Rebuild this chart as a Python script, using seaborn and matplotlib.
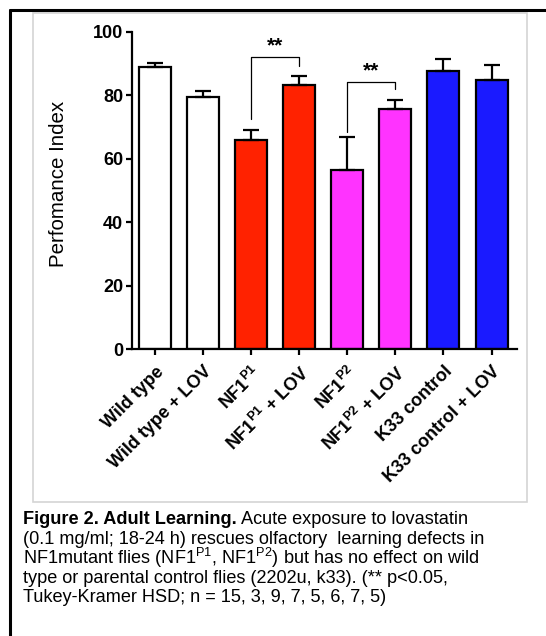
import matplotlib
matplotlib.use("Agg")
import matplotlib.pyplot as plt
from matplotlib.lines import Line2D
from matplotlib.patches import Rectangle
import pandas as pd
import seaborn as sns
import numpy as np

# values
groups = ["Wild type", "Wild type + LOV", "NF1$^{\\mathbf{P1}}$", "NF1$^{\\mathbf{P1}}$ + LOV",
          "NF1$^{\\mathbf{P2}}$", "NF1$^{\\mathbf{P2}}$ + LOV", "K33 control", "K33 control + LOV"]
means = [89.0, 79.4, 66.0, 83.3, 56.6, 75.8, 87.6, 84.9]
errs = [1.1, 1.8, 3.2, 2.9, 10.3, 2.8, 3.8, 4.7]
colors = ["#ffffff", "#ffffff", "#ff2200", "#ff2200", "#ff33ff", "#ff33ff", "#1a1aff", "#1a1aff"]
yticks = [0, 20, 40, 60, 80, 100]

caption_bold = "Figure 2. Adult Learning."
caption = [
    " Acute exposure to lovastatin",
    "(0.1 mg/ml; 18-24 h) rescues olfactory  learning defects in",
    r"NF1mutant flies (NF1$^{\mathrm{P1}}$, NF1$^{\mathrm{P2}}$) but has no effect on wild",
    "type or parental control flies (2202u, k33). (** p<0.05,",
    "Tukey-Kramer HSD; n = 15, 3, 9, 7, 5, 6, 7, 5)",
]

sns.set_theme(style="ticks")
plt.rcParams["font.family"] = ["Liberation Sans", "DejaVu Sans"]
plt.rcParams["mathtext.fontset"] = "custom"
plt.rcParams["mathtext.rm"] = "Liberation Sans"
plt.rcParams["mathtext.bf"] = "Liberation Sans:bold"
for k in ["text.color", "axes.labelcolor", "xtick.color", "ytick.color", "axes.edgecolor"]:
    plt.rcParams[k] = "black"

df = pd.DataFrame({"group": groups, "pi": means})

fig = plt.figure(figsize=(5.46, 6.36), dpi=100)
W, H = 546, 636

# outer frame and inner picture box
fig.add_artist(Line2D([10 / W, 10 / W], [0, 1 - 10 / H], color="black", lw=2.2))
fig.add_artist(Line2D([10 / W, 1], [1 - 10 / H, 1 - 10 / H], color="black", lw=2.2))
fig.add_artist(Rectangle((33 / W, 1 - 502 / H), (527 - 33) / W, (502 - 13) / H,
                         fill=False, edgecolor="#d4d4d4", lw=1.2))

ax = fig.add_axes([131.7 / W, 1 - 349.3 / H, (517 - 131.7) / W, (349.3 - 31.7) / H])
sns.barplot(data=df, x="group", y="pi", hue="group", palette=colors, legend=False,
            saturation=1, width=0.665, edgecolor="black", linewidth=1.6, errorbar=None, ax=ax)
ax.errorbar(range(len(means)), means, yerr=[np.zeros(len(errs)), errs], fmt="none",
            ecolor="black", elinewidth=1.6, capsize=5.5, capthick=1.6)

ax.set_xlim(-0.484, 7.53)
ax.set_ylim(0, 100)
ax.set_yticks(yticks)
ax.set_yticklabels([str(t) for t in yticks], fontsize=13, fontweight="bold")
ax.set_xticks(range(len(groups)))
ax.set_xticklabels(groups, rotation=45, ha="right", rotation_mode="anchor",
                   fontsize=13, fontweight="bold")
ax.set_xlabel("")
ax.set_ylabel("Perfomance Index", fontsize=14.8)
ax.yaxis.set_label_coords(-0.165, 0.52)
sns.despine(ax=ax)
for s in ["left", "bottom"]:
    ax.spines[s].set_linewidth(1.6)
ax.tick_params(axis="both", length=4, width=1.6, direction="out", pad=2)
ax.tick_params(axis="x", pad=6)
ax.patch.set_alpha(0)

# significance brackets
def bracket(x0, x1, y0, ytop, y1, y_star):
    ax.plot([x0, x0, x1, x1], [y0, ytop, ytop, y1], color="black", lw=0.9, clip_on=False)
    ax.text((x0 + x1) / 2, y_star, "**", ha="center", va="center", fontsize=15,
            fontweight="bold", clip_on=False)

bracket(2, 3, 72.6, 92.1, 89.2, 95.5)
bracket(4, 5, 68.5, 84.3, 81.9, 87.8)

# caption: bold lead-in, then the rest of the first line right after it
cap_size = 13.1
x0 = 23 / W
line_y = [520, 539, 558, 578.5, 597.5]
tb = fig.text(x0, 1 - line_y[0] / H, caption_bold, fontsize=cap_size, fontweight="bold",
              va="center", ha="left")
fig.canvas.draw()
bb = tb.get_window_extent(renderer=fig.canvas.get_renderer())
for i, line in enumerate(caption):
    x = bb.x1 / W if i == 0 else x0
    fig.text(x, 1 - line_y[i] / H, line, fontsize=cap_size, va="center", ha="left")

fig.savefig("out.png", dpi=100)
